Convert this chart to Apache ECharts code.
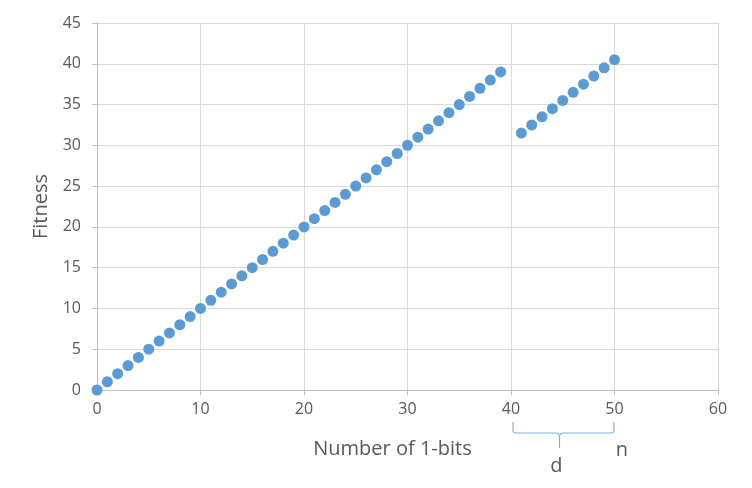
<!DOCTYPE html>
<html><head><meta charset="utf-8">
<script src="https://cdn.jsdelivr.net/npm/echarts@6/dist/echarts.min.js"></script>
<style>html,body{margin:0;padding:0;background:#fff}#c{width:752px;height:488px}</style>
</head><body><div id="c"></div>
<script>
// Data
var xFirst = [0,1,2,3,4,5,6,7,8,9,10,11,12,13,14,15,16,17,18,19,20,21,22,23,24,25,26,27,28,29,30,31,32,33,34,35,36,37,38,39];
var yFirst = [0,1,2,3,4,5,6,7,8,9,10,11,12,13,14,15,16,17,18,19,20,21,22,23,24,25,26,27,28,29,30,31,32,33,34,35,36,37,38,39];
var xSecond = [41,42,43,44,45,46,47,48,49,50];
var ySecond = [31.5,32.5,33.5,34.5,35.5,36.5,37.5,38.5,39.5,40.5];
var xTicks = [0,10,20,30,40,50,60];
var yTicks = [0,5,10,15,20,25,30,35,40,45];
var bracketRange = [40.2, 49.95];
var xTitle = 'Number of 1-bits';
var yTitle = 'Fitness';

(function(){
var pts = [];
xFirst.forEach(function(x,i){ pts.push([x, yFirst[i]]); });
xSecond.forEach(function(x,i){ pts.push([x, ySecond[i]]); });

var FONT = '"Open Sans", sans-serif';
var chart = echarts.init(document.getElementById('c'), null, {renderer:'canvas'});
chart.setOption({
  animation:false,
  grid:{left:97, right:34, top:23, bottom:98, containLabel:false},
  xAxis:{type:'value', min:xTicks[0], max:xTicks[xTicks.length-1], interval:10,
    axisLine:{show:true, onZero:false, lineStyle:{color:'#bfbfbf', width:1}},
    axisTick:{show:true, inside:false, length:5, lineStyle:{color:'#bfbfbf'}},
    splitLine:{show:true, lineStyle:{color:'#d9d9d9', width:1}},
    axisLabel:{color:'#595959', fontSize:16, fontFamily:FONT, margin:11},
    name:xTitle, nameLocation:'middle', nameGap:49,
    nameTextStyle:{color:'#595959', fontSize:20, fontFamily:FONT, padding:[0,30,0,0]}},
  yAxis:{type:'value', min:yTicks[0], max:yTicks[yTicks.length-1], interval:5,
    axisLine:{show:true, onZero:false, lineStyle:{color:'#bfbfbf', width:1}},
    axisTick:{show:true, inside:false, length:5, lineStyle:{color:'#bfbfbf'}},
    splitLine:{show:true, lineStyle:{color:'#d9d9d9', width:1}},
    axisLabel:{color:'#595959', fontSize:16, fontFamily:FONT, margin:16},
    name:yTitle, nameLocation:'middle', nameGap:46, nameRotate:90,
    nameTextStyle:{color:'#595959', fontSize:20, fontFamily:FONT}},
  series:[{type:'scatter', data:pts, symbol:'circle', symbolSize:11,
    itemStyle:{color:'#5b9bd5', opacity:1}}]
});

var x0 = chart.convertToPixel({xAxisIndex:0}, bracketRange[0]);
var x1 = chart.convertToPixel({xAxisIndex:0}, bracketRange[1]);
var yAx = chart.convertToPixel({yAxisIndex:0}, 0);
var bTop = yAx + 32, bMid = yAx + 43, bTip = yAx + 58;
var xm = x0 + (x1 - x0) * 0.46;
var st = {stroke:'#7fb1de', lineWidth:1.2, fill:null};
chart.setOption({graphic:[
  {type:'polyline', silent:true, shape:{points:[[x0,bTop],[x0,bMid-2],[x0+1,bMid-0.5],[x0+3,bMid],[xm-3,bMid],[xm-1,bMid+1],[xm,bMid+3],[xm,bTip]]}, style:st},
  {type:'polyline', silent:true, shape:{points:[[x1,bTop],[x1,bMid-2],[x1-1,bMid-0.5],[x1-3,bMid],[xm+3,bMid],[xm+1,bMid+1],[xm,bMid+3]]}, style:st},
  {type:'text', x:xm-3, y:bTip+18, style:{text:'d', fill:'#595959', font:'20px '+FONT, align:'center', verticalAlign:'middle'}},
  {type:'text', x:x1+8, y:bMid+17, style:{text:'n', fill:'#595959', font:'20px '+FONT, align:'center', verticalAlign:'middle'}}
]});
})();
</script></body></html>
